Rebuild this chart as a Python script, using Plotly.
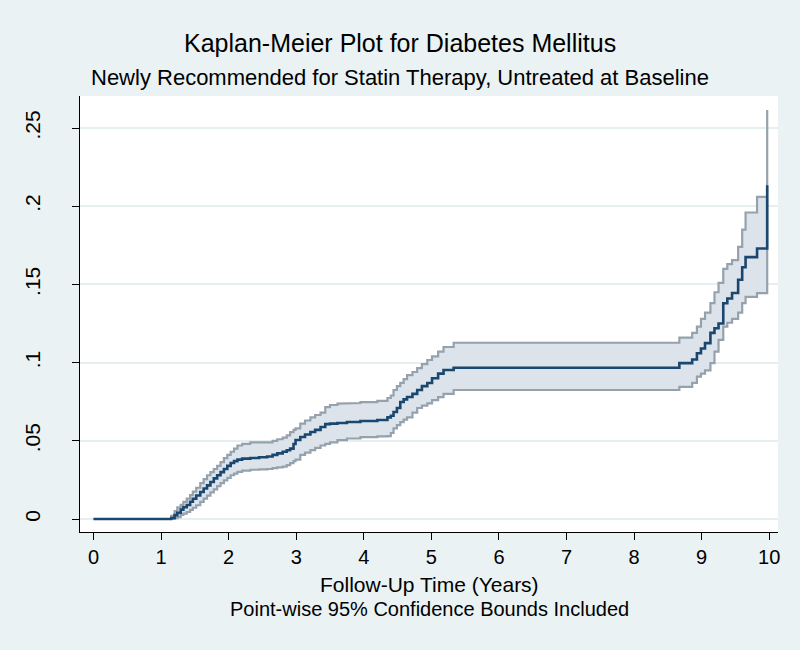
import plotly.graph_objects as go

# Kaplan-Meier failure estimates
times = [0.0, 1.15, 1.20, 1.24, 1.29, 1.33, 1.38, 1.43, 1.47, 1.52, 1.58, 1.63, 1.68, 1.73,
         1.78, 1.83, 1.88, 1.93, 1.98, 2.03, 2.08, 2.13, 2.20, 2.32, 2.45, 2.57, 2.65, 2.72,
         2.80, 2.86, 2.91, 2.96, 2.99, 3.06, 3.13, 3.21, 3.28, 3.36, 3.43, 3.50, 3.61, 3.75,
         3.95, 4.20, 4.35, 4.40, 4.44, 4.49, 4.54, 4.59, 4.64, 4.72, 4.79, 4.86, 4.94, 5.01,
         5.10, 5.18, 5.33, 8.67, 8.86, 8.93, 8.99, 9.05, 9.13, 9.19, 9.25, 9.32, 9.38, 9.45,
         9.54, 9.60, 9.65, 9.82, 9.97]
failure = [0.0, 0.0007, 0.0025, 0.004, 0.006, 0.0075, 0.009, 0.011, 0.013, 0.015, 0.0173,
           0.0195, 0.0215, 0.0237, 0.026, 0.028, 0.030, 0.032, 0.034, 0.0358, 0.037, 0.038,
           0.0386, 0.039, 0.0395, 0.040, 0.041, 0.042, 0.043, 0.044, 0.045, 0.048, 0.0505,
           0.0524, 0.054, 0.0556, 0.057, 0.0588, 0.0607, 0.061, 0.0614, 0.062, 0.0627, 0.0633,
           0.065, 0.066, 0.0684, 0.071, 0.0748, 0.0765, 0.078, 0.080, 0.0825, 0.085, 0.087,
           0.090, 0.093, 0.0953, 0.0967, 0.0997, 0.102, 0.106, 0.109, 0.1125, 0.119, 0.122,
           0.125, 0.138, 0.141, 0.1445, 0.153, 0.161, 0.1675, 0.173, 0.2135]
upper = [0.0, 0.002, 0.005, 0.0075, 0.009, 0.011, 0.013, 0.0153, 0.0175, 0.020, 0.023,
         0.0255, 0.028, 0.030, 0.032, 0.034, 0.0364, 0.039, 0.041, 0.043, 0.045, 0.047, 0.048,
         0.049, 0.049, 0.049, 0.050, 0.051, 0.052, 0.0535, 0.0556, 0.057, 0.058, 0.061, 0.063,
         0.065, 0.0665, 0.068, 0.0715, 0.0729, 0.0738, 0.0742, 0.0748, 0.0755, 0.0774, 0.079,
         0.0825, 0.085, 0.087, 0.0895, 0.092, 0.094, 0.0965, 0.099, 0.1017, 0.104, 0.107,
         0.110, 0.1127, 0.116, 0.119, 0.123, 0.128, 0.132, 0.138, 0.145, 0.151, 0.160, 0.163,
         0.1655, 0.174, 0.185, 0.196, 0.206, 0.2615]
lower = [0.0, 0.0001, 0.0005, 0.0012, 0.0026, 0.0035, 0.0045, 0.0058, 0.0072, 0.0088, 0.011,
         0.013, 0.015, 0.017, 0.019, 0.021, 0.023, 0.0247, 0.0263, 0.028, 0.029, 0.0302, 0.031,
         0.0315, 0.0318, 0.032, 0.0325, 0.033, 0.0335, 0.0345, 0.0358, 0.037, 0.038, 0.041,
         0.0425, 0.044, 0.0455, 0.047, 0.048, 0.049, 0.0505, 0.0515, 0.0524, 0.0528, 0.053,
         0.055, 0.058, 0.060, 0.062, 0.0635, 0.065, 0.068, 0.071, 0.0725, 0.074, 0.076, 0.078,
         0.080, 0.0825, 0.0845, 0.087, 0.091, 0.093, 0.095, 0.0997, 0.107, 0.1145, 0.123,
         0.1255, 0.128, 0.132, 0.138, 0.142, 0.1445, 0.1464]

x_ticks = list(range(0, 11))
y_ticks = [0, 0.05, 0.1, 0.15, 0.2, 0.25]
y_tick_labels = ["0", ".05", ".1", ".15", ".2", ".25"]

TITLE = "Kaplan-Meier Plot for Diabetes Mellitus"
SUBTITLE = "Newly Recommended for Statin Therapy, Untreated at Baseline"
XTITLE = "Follow-Up Time (Years)"
NOTE = "Point-wise 95% Confidence Bounds Included"


def step_path(t, v):
    xs, ys = [], []
    for i in range(len(t)):
        if i > 0:
            xs.append(t[i]); ys.append(v[i - 1])
        xs.append(t[i]); ys.append(v[i])
    return xs, ys


ux, uy = step_path(times, upper)
lx, ly = step_path(times, lower)
band_x = ux + lx[::-1] + [ux[0]]
band_y = uy + ly[::-1] + [uy[0]]

FONT = "Liberation Sans, Arial, sans-serif"
BG = "#EAF2F3"

W, H = 800, 650
ML, MR, MT, MB = 80, 22, 96, 118
PW, PH = W - ML - MR, H - MT - MB


def px_x(p):
    return (p - ML) / PW


def px_y(p):
    return (H - MB - p) / PH


fig = go.Figure()
fig.add_trace(go.Scatter(x=band_x, y=band_y, mode="lines", fill="toself",
                         fillcolor="#DDE3EA", line=dict(color="#95A1AD", width=2.2),
                         hoverinfo="skip", showlegend=False))
fig.add_trace(go.Scatter(x=times, y=failure, mode="lines", line_shape="hv",
                         line=dict(color="#1A476F", width=2.6), showlegend=False))

fig.update_layout(
    width=W, height=H,
    paper_bgcolor=BG, plot_bgcolor="white",
    margin=dict(l=ML, r=MR, t=MT, b=MB),
    font=dict(family=FONT, color="black"),
    showlegend=False,
    annotations=[
        dict(text=TITLE, x=px_x(400), y=px_y(43), xref="paper", yref="paper",
             xanchor="center", yanchor="middle", showarrow=False, font=dict(size=25)),
        dict(text=SUBTITLE, x=px_x(400), y=px_y(78), xref="paper", yref="paper",
             xanchor="center", yanchor="middle", showarrow=False, font=dict(size=22)),
        dict(text=XTITLE, x=0.5, y=px_y(584), xref="paper", yref="paper",
             xanchor="center", yanchor="middle", showarrow=False, font=dict(size=21)),
        dict(text=NOTE, x=0.5, y=px_y(609), xref="paper", yref="paper",
             xanchor="center", yanchor="middle", showarrow=False, font=dict(size=20)),
    ],
)
fig.update_xaxes(range=[-0.2, 10.13], tickvals=x_ticks, ticks="outside", ticklen=7,
                 tickcolor="black", showline=True, linecolor="black", linewidth=1.2,
                 showgrid=False, zeroline=False, tickfont=dict(size=20))
fig.update_yaxes(range=[-0.0083, 0.2705], tickvals=y_ticks, ticktext=y_tick_labels,
                 tickangle=-90, ticks="outside", ticklen=7, tickcolor="black",
                 showline=True, linecolor="black", linewidth=1.2,
                 showgrid=True, gridcolor="#E6EFF0", gridwidth=1.5, zeroline=False,
                 tickfont=dict(size=21), ticklabelstandoff=24)

fig.write_html("out.html", config={"displayModeBar": False},
               post_script="document.body.style.margin='0';")
